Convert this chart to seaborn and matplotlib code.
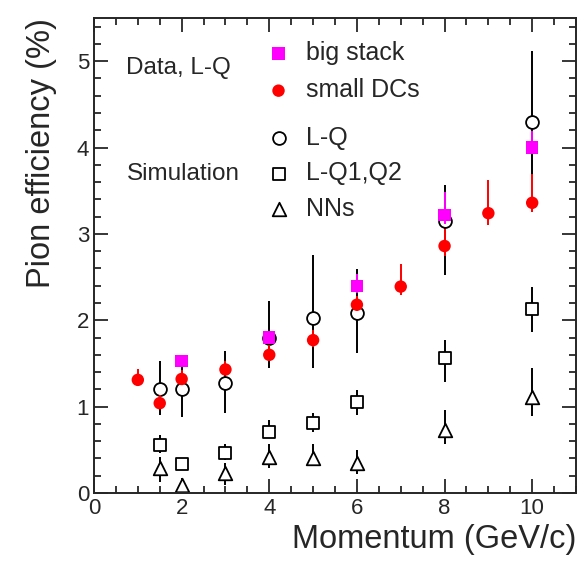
import numpy as np
import pandas as pd
import matplotlib
matplotlib.use("Agg")
import matplotlib.pyplot as plt
import seaborn as sns
from matplotlib.ticker import MultipleLocator

# data: big stack (magenta squares)
big_p = [2, 4, 6, 8, 10]
big_eff = [1.53, 1.80, 2.40, 3.22, 4.00]
big_lo = [0.05, 0.06, 0.08, 0.10, 0.06]
big_hi = [0.07, 0.08, 0.14, 0.26, 0.19]

# data: small DCs (red circles)
dc_p = [1, 1.5, 2, 3, 4, 5, 6, 7, 8, 9, 10]
dc_eff = [1.31, 1.04, 1.32, 1.43, 1.60, 1.77, 2.18, 2.39, 2.86, 3.24, 3.36]
dc_lo = [0.04, 0.07, 0.06, 0.06, 0.07, 0.08, 0.07, 0.10, 0.12, 0.14, 0.11]
dc_hi = [0.13, 0.09, 0.10, 0.10, 0.11, 0.12, 0.10, 0.26, 0.20, 0.38, 0.33]

# simulation: L-Q (open circles)
lq_p = [1.5, 2, 3, 4, 5, 6, 8, 10]
lq_eff = [1.20, 1.20, 1.27, 1.80, 2.03, 2.08, 3.15, 4.30]
lq_lo = [0.30, 0.32, 0.34, 0.35, 0.58, 0.46, 0.63, 0.62]
lq_hi = [0.33, 0.32, 0.38, 0.42, 0.73, 0.51, 0.42, 0.82]

# simulation: L-Q1,Q2 (open squares)
q12_p = [1.5, 2, 3, 4, 5, 6, 8, 10]
q12_eff = [0.56, 0.34, 0.46, 0.71, 0.81, 1.05, 1.56, 2.13]
q12_lo = [0.10, 0.07, 0.08, 0.07, 0.10, 0.15, 0.27, 0.27]
q12_hi = [0.11, 0.06, 0.11, 0.13, 0.12, 0.14, 0.21, 0.25]

# simulation: NNs (open triangles)
nn_p = [1.5, 2, 3, 4, 5, 6, 8, 10]
nn_eff = [0.29, 0.09, 0.23, 0.42, 0.40, 0.35, 0.73, 1.11]
nn_lo = [0.16, 0.09, 0.14, 0.13, 0.09, 0.13, 0.16, 0.22]
nn_hi = [0.13, 0.08, 0.12, 0.15, 0.17, 0.15, 0.23, 0.34]

sns.set_style("ticks")
plt.rcParams['font.family'] = ['Liberation Sans', 'DejaVu Sans']

fig = plt.figure(figsize=(5.77, 5.61), dpi=100)
ax = fig.add_axes([94 / 577, 68 / 561, 482 / 577, 475 / 561])

# error bars
for p, e, lo, hi, c in [(lq_p, lq_eff, lq_lo, lq_hi, 'black'),
                        (q12_p, q12_eff, q12_lo, q12_hi, 'black'),
                        (nn_p, nn_eff, nn_lo, nn_hi, 'black')]:
    ax.errorbar(p, e, yerr=[lo, hi], fmt='none', ecolor=c, elinewidth=1.4, zorder=1)

sns.scatterplot(x=lq_p, y=lq_eff, marker='o', s=85, facecolor='white',
                edgecolor='black', linewidth=1.3, ax=ax, zorder=2, label='L-Q')
sns.scatterplot(x=q12_p, y=q12_eff, marker='s', s=80, facecolor='white',
                edgecolor='black', linewidth=1.3, ax=ax, zorder=2, label='L-Q1,Q2')
sns.scatterplot(x=nn_p, y=nn_eff, marker='^', s=95, facecolor='white',
                edgecolor='black', linewidth=1.3, ax=ax, zorder=2, label='NNs')

ax.errorbar(dc_p, dc_eff, yerr=[dc_lo, dc_hi], fmt='none', ecolor='#ff0000',
            elinewidth=1.4, zorder=3)
sns.scatterplot(x=dc_p, y=dc_eff, marker='o', s=80, color='#ff0000',
                edgecolor='none', ax=ax, zorder=4, label='small DCs')
ax.errorbar(big_p, big_eff, yerr=[big_lo, big_hi], fmt='none', ecolor='#ff00ff',
            elinewidth=1.4, zorder=3)
sns.scatterplot(x=big_p, y=big_eff, marker='s', s=80, color='#ff00ff',
                edgecolor='none', ax=ax, zorder=5, label='big stack')

ax.set_xlim(0, 11)
ax.set_ylim(0, 5.5)
ax.xaxis.set_major_locator(MultipleLocator(2))
ax.xaxis.set_minor_locator(MultipleLocator(0.5))
ax.yaxis.set_major_locator(MultipleLocator(1))
ax.yaxis.set_minor_locator(MultipleLocator(0.2))
ax.tick_params(which='both', direction='in', top=True, right=True,
               labelsize=16, width=1.3)
ax.tick_params(which='major', length=10)
ax.tick_params(which='minor', length=5)
for s in ax.spines.values():
    s.set_linewidth(1.4)

ax.set_xlabel('Momentum (GeV/c)', fontsize=23.5, loc='right', labelpad=4)
ax.set_ylabel('Pion efficiency (%)', fontsize=23.5, loc='top', labelpad=14)

handles, labels = ax.get_legend_handles_labels()
hmap = dict(zip(labels, handles))
leg1 = ax.legend([hmap['big stack'], hmap['small DCs']], ['big stack', 'small DCs'],
                 loc='upper left', bbox_to_anchor=(0.305, 0.999), frameon=False,
                 fontsize=18, labelspacing=0.53, handletextpad=0.5, handlelength=1.2)
ax.add_artist(leg1)
ax.legend([hmap['L-Q'], hmap['L-Q1,Q2'], hmap['NNs']], ['L-Q', 'L-Q1,Q2', 'NNs'],
          loc='upper left', bbox_to_anchor=(0.305, 0.82), frameon=False,
          fontsize=18, labelspacing=0.45, handletextpad=0.5, handlelength=1.2)

ax.text(0.175, 0.895, 'Data, L-Q', transform=ax.transAxes, fontsize=17.5,
        ha='center', va='center')
ax.text(0.185, 0.672, 'Simulation', transform=ax.transAxes, fontsize=17.5,
        ha='center', va='center')

fig.savefig('out.png', dpi=100)
